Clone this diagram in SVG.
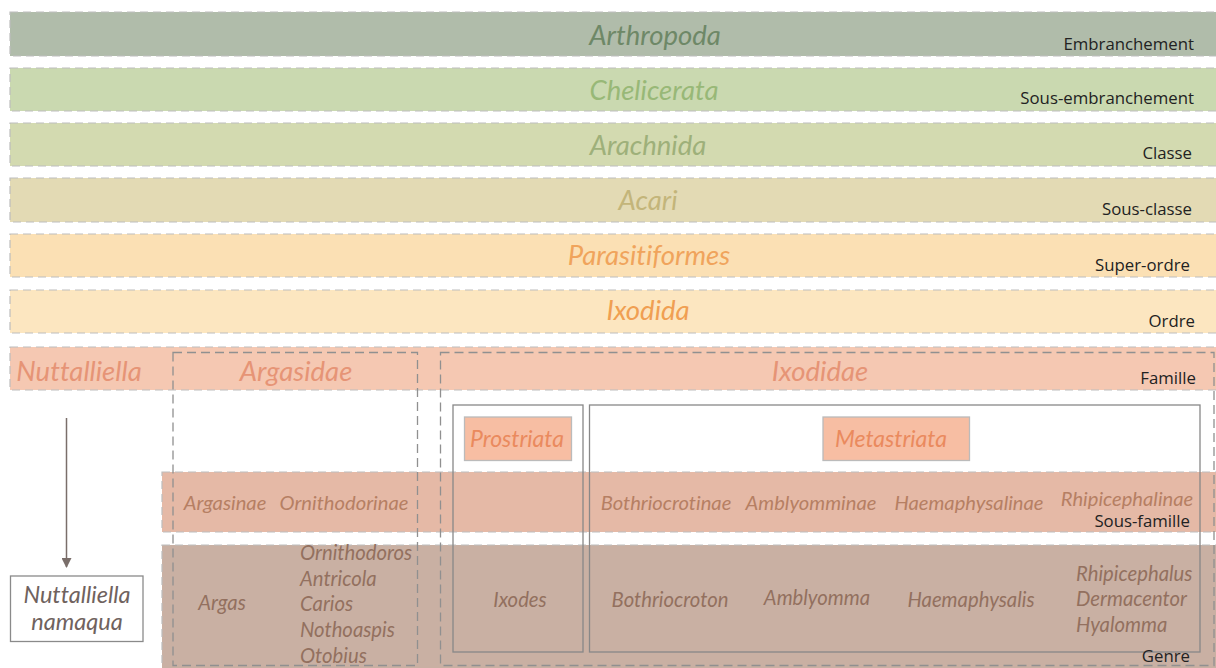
<svg xmlns="http://www.w3.org/2000/svg" width="1216" height="668" viewBox="0 0 1216 668">
<style>
text{font-variant-ligatures:none}
.band{stroke:#bdbdbd;stroke-width:1.2;stroke-dasharray:8 5}
.lvl{font-family:Lato,"Open Sans",sans-serif;font-size:27.5px;font-style:italic;text-anchor:middle}
.rank{font-family:"Open Sans",Lato,sans-serif;font-size:16.8px;fill:#222;text-anchor:end}
.sf{font-family:Lato,sans-serif;font-size:20.2px;font-style:italic;fill:#b67f63;text-anchor:middle}
.ge{font-family:Lato,sans-serif;font-size:20.3px;font-style:italic;fill:#93705f;text-anchor:middle}
.gl{font-family:Lato,sans-serif;font-size:20.3px;font-style:italic;fill:#93705f}
.dbox{fill:none;stroke:#909090;stroke-width:1.3;stroke-dasharray:9 5}
.sbox{fill:none;stroke:#888;stroke-width:1.3}
.tag{fill:#f7bea3;stroke:#bbb;stroke-width:1.3}
.sub{font-size:23px}
</style>
<defs>
<marker id="ah" viewBox="0 0 10 10" refX="9" refY="5" markerWidth="10" markerHeight="10" markerUnits="userSpaceOnUse" orient="auto">
<path d="M0,0 L10,5 L0,10 z" fill="#7a6e6a"/>
</marker>
</defs>
<rect width="1216" height="668" fill="#fff"/>
<g id="bands">
<rect class="band" x="10" y="12" width="1212" height="44" fill="#b0bcaa"/>
<rect class="band" x="10" y="68" width="1212" height="43" fill="#cad9b0"/>
<rect class="band" x="10" y="123" width="1212" height="43" fill="#d3dab0"/>
<rect class="band" x="10" y="178" width="1212" height="44" fill="#e3dab4"/>
<rect class="band" x="10" y="234" width="1212" height="43" fill="#fbe0b4"/>
<rect class="band" x="10" y="290" width="1212" height="43" fill="#fce6c0"/>
<rect class="band" x="10" y="347" width="1212" height="43" fill="#f5c8b2"/>
<rect class="band" x="162" y="472" width="1060" height="60" fill="#e5b9a6"/>
<rect class="band" x="162" y="545" width="1060" height="130" fill="#c9b0a3"/>
</g>
<g id="n-arthropoda"><text class="lvl" x="655" y="45" fill="#6e8867">Arthropoda</text><text class="rank" x="1194" y="50">Embranchement</text></g>
<g id="n-chelicerata"><text class="lvl" x="654" y="100" fill="#98b877">Chelicerata</text><text class="rank" x="1194" y="104">Sous-embranchement</text></g>
<g id="n-arachnida"><text class="lvl" x="648" y="155" fill="#9eb07a">Arachnida</text><text class="rank" x="1192" y="159">Classe</text></g>
<g id="n-acari"><text class="lvl" x="648" y="210" fill="#c3b57a">Acari</text><text class="rank" x="1192" y="215">Sous-classe</text></g>
<g id="n-parasitiformes"><text class="lvl" x="649" y="265" fill="#f0a45c">Parasitiformes</text><text class="rank" x="1190" y="271">Super-ordre</text></g>
<g id="n-ixodida"><text class="lvl" x="648" y="320" fill="#f09f52">Ixodida</text><text class="rank" x="1195" y="327">Ordre</text></g>
<g id="n-nuttalliella"><text class="lvl" x="79" y="381" fill="#e69476">Nuttalliella</text><text class="rank" x="1196" y="384">Famille</text></g>
<g id="n-argasidae">
<rect class="dbox" x="173" y="352.5" width="244.5" height="313"/>
<text class="lvl" x="296" y="381" fill="#e69476">Argasidae</text>
</g>
<g id="n-ixodidae">
<rect class="dbox" x="440.5" y="352.5" width="773.5" height="313"/>
<text class="lvl" x="820" y="381" fill="#e69476">Ixodidae</text>
</g>
<g id="n-prostriata">
<rect class="sbox" x="453" y="405" width="130" height="247"/>
<rect class="tag" x="464.5" y="417" width="107" height="43.5"/>
<text class="lvl sub" x="517" y="447" fill="#ea8a5e">Prostriata</text>
</g>
<g id="n-metastriata">
<rect class="sbox" x="589.5" y="405" width="610.5" height="247"/>
<rect class="tag" x="823" y="417" width="146.5" height="43.5"/>
<text class="lvl sub" x="891" y="447" fill="#ea8a5e">Metastriata</text>
</g>
<g id="n-sousfamille">
<text class="sf" x="225" y="510">Argasinae</text>
<text class="sf" x="344" y="510">Ornithodorinae</text>
<text class="sf" x="666" y="510">Bothriocrotinae</text>
<text class="sf" x="811" y="510">Amblyomminae</text>
<text class="sf" x="969" y="510">Haemaphysalinae</text>
<text class="sf" x="1127" y="506">Rhipicephalinae</text>
<text class="rank" x="1190" y="527">Sous-famille</text>
</g>
<g id="n-genre">
<text class="ge" x="222" y="610">Argas</text>
<text class="gl" x="300" y="560">Ornithodoros</text>
<text class="gl" x="300" y="586">Antricola</text>
<text class="gl" x="300" y="611">Carios</text>
<text class="gl" x="300" y="637">Nothoaspis</text>
<text class="gl" x="300" y="663">Otobius</text>
<text class="ge" x="520" y="607">Ixodes</text>
<text class="ge" x="670" y="607">Bothriocroton</text>
<text class="ge" x="817" y="605">Amblyomma</text>
<text class="ge" x="971" y="607">Haemaphysalis</text>
<text class="gl" x="1076" y="581">Rhipicephalus</text>
<text class="gl" x="1076" y="606">Dermacentor</text>
<text class="gl" x="1076" y="632">Hyalomma</text>
<text class="rank" x="1190" y="662">Genre</text>
</g>
<g id="n-namaqua">
<rect x="10.5" y="576" width="132.5" height="65.5" fill="#fff" stroke="#8a8a8a" stroke-width="1.3"/>
<text class="lvl" x="77" y="603" style="font-size:23.5px" fill="#6f625e">Nuttalliella</text>
<text class="lvl" x="77" y="630" style="font-size:23.5px" fill="#6f625e">namaqua</text>
</g>
<g id="connectors">
<line x1="66.5" y1="418" x2="66.5" y2="567" stroke="#7a6e6a" stroke-width="1.5" marker-end="url(#ah)"/>
</g>
</svg>
